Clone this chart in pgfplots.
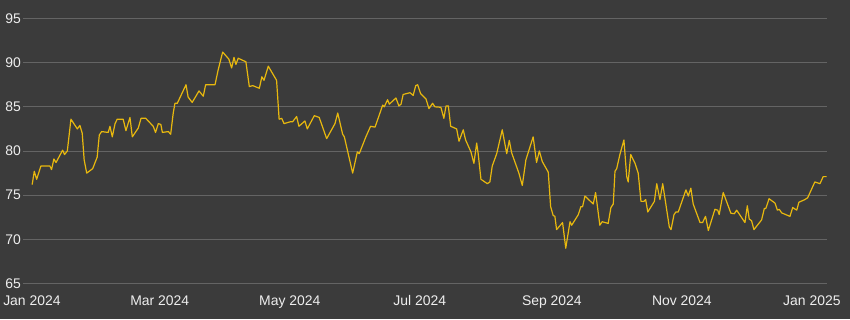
\documentclass[border=0pt]{standalone}
\usepackage{fontspec}
\setmainfont{Liberation Sans}
\usepackage{pgfplots}
\pgfplotsset{compat=1.18}
\definecolor{bg}{HTML}{3B3B3B}
\definecolor{gridc}{HTML}{646464}
\definecolor{txt}{HTML}{EEEEEE}
\definecolor{oil}{HTML}{E8B80E}
\begin{document}
\begin{tikzpicture}[x=1bp,y=1bp]
\fill[bg] (0,0) rectangle (850,319);
\begin{axis}[
  at={(23bp,35.5bp)}, anchor=south west,
  scale only axis, width=804bp, height=265bp,
  xmin=-4.2, xmax=373.1, ymin=65, ymax=95,
  axis line style={draw=none},
  ytick={65,70,...,95},
  xtick={0,60,121,182,244,305,366},
  xticklabels={Jan 2024,Mar 2024,May 2024,Jul 2024,Sep 2024,Nov 2024,Jan 2025},
  major tick length=0pt,
  /pgf/number format/assume math mode=true,
  ymajorgrids, grid style={gridc, line width=1bp},
  tick label style={text=txt, font=\fontsize{14}{16}\selectfont},
  yticklabel style={inner sep=0pt, xshift=-2bp},
  xticklabel style={inner sep=0pt, yshift=-12bp},
  clip=false,
]
\addplot[oil, line width=1.2bp, mark=none, line join=round] coordinates {
(0.1,76.2)(1.1,77.7)(2.2,76.8)(4.2,78.3)(7.6,78.3)(8.4,78.3)(9.2,77.9)(10.3,79.1)(11.3,78.7)(14.4,80.1)(15.3,79.6)(16.6,80.0)(18.3,83.6)(21.3,82.5)(22.5,82.9)(23.6,82.0)(24.5,79.0)(25.7,77.5)(28.5,78.0)(30.6,79.3)(31.6,81.8)(32.7,82.2)(35.8,82.1)(36.6,82.8)(37.7,81.6)(39.0,83.1)(40.0,83.6)(42.8,83.6)(44.1,82.3)(46.0,83.8)(47.1,81.6)(49.9,82.6)(51.2,83.7)(53.4,83.7)(56.9,82.8)(58.0,82.1)(59.3,83.1)(60.5,83.0)(61.2,82.1)(64.0,82.2)(65.1,81.9)(66.3,84.3)(67.1,85.4)(68.2,85.4)(72.3,87.5)(73.3,86.1)(75.2,85.5)(78.4,86.8)(80.4,86.2)(81.5,87.5)(85.9,87.5)(87.4,89.2)(89.5,91.2)(92.4,90.4)(93.7,89.4)(94.8,90.6)(95.7,89.8)(96.8,90.5)(100.4,90.1)(102.0,87.3)(103.6,87.4)(106.7,87.1)(107.9,88.4)(108.9,88.0)(110.9,89.6)(114.8,88.0)(116.0,83.6)(117.2,83.7)(118.3,83.1)(121.1,83.3)(122.3,83.3)(124.2,83.9)(125.3,82.8)(128.1,83.4)(129.2,82.5)(132.5,84.0)(134.8,83.8)(138.3,81.4)(142.2,83.1)(143.5,84.3)(145.8,81.9)(146.6,81.6)(150.5,77.5)(152.7,79.9)(153.6,79.7)(156.7,81.6)(158.9,82.8)(161.0,82.7)(164.6,85.2)(165.3,85.0)(166.9,85.8)(167.7,85.3)(170.8,86.0)(172.2,85.1)(173.2,85.3)(174.2,86.4)(177.4,86.6)(178.9,86.3)(180.1,87.4)(181.0,87.5)(182.4,86.5)(184.9,85.9)(186.3,84.8)(188.0,85.4)(189.1,85.0)(191.9,84.95)(193.3,83.7)(194.3,85.1)(195.4,85.1)(196.5,82.8)(199.3,82.5)(200.4,81.1)(202.4,82.4)(203.5,81.25)(206.0,79.9)(207.4,78.6)(208.7,80.9)(209.4,79.7)(210.7,76.8)(213.7,76.3)(214.9,76.5)(216.0,78.3)(218.1,79.7)(220.7,82.4)(222.8,79.7)(224.0,81.2)(225.1,79.8)(228.5,77.5)(230.1,76.1)(231.8,79.0)(235.2,81.6)(236.8,78.7)(238.1,80.0)(239.5,78.8)(242.3,77.6)(243.4,73.7)(244.6,72.7)(245.4,72.6)(246.2,71.1)(249.0,71.9)(250.5,69.0)(252.5,72.0)(253.3,71.6)(256.4,72.8)(257.6,73.7)(258.4,73.7)(259.5,74.9)(263.4,74.0)(264.5,75.3)(266.5,71.6)(267.6,72.0)(270.4,71.8)(271.7,73.6)(272.8,74.0)(273.6,77.7)(274.4,78.0)(275.9,79.6)(277.8,81.25)(279.1,77.1)(279.8,76.5)(281.0,79.6)(283.0,78.6)(284.5,77.5)(285.8,74.3)(287.2,74.3)(288.0,74.5)(289.0,73.1)(292.1,74.3)(293.2,76.3)(294.7,74.5)(296.0,76.3)(299.1,71.4)(299.9,71.1)(301.3,72.8)(302.2,73.1)(303.3,73.1)(306.9,75.6)(308.0,74.9)(309.2,75.8)(310.3,74.0)(313.5,71.9)(314.7,71.9)(316.1,72.6)(317.4,71.0)(320.5,73.4)(321.8,73.3)(322.5,72.8)(324.4,75.3)(328.0,72.95)(329.6,72.9)(330.7,73.3)(334.6,71.9)(335.7,73.8)(336.6,72.3)(337.7,72.1)(338.8,71.1)(342.4,72.2)(343.7,73.5)(344.4,73.5)(345.9,74.6)(348.7,74.1)(349.8,73.3)(350.7,73.4)(351.8,73.0)(355.7,72.6)(357.0,73.6)(358.9,73.3)(359.9,74.2)(362.7,74.5)(364.0,74.7)(367.4,76.5)(369.8,76.3)(371.3,77.1)(372.9,77.1)
};
\end{axis}
\pgfresetboundingbox
\useasboundingbox (0,0) rectangle (850,319);
\end{tikzpicture}
\end{document}
